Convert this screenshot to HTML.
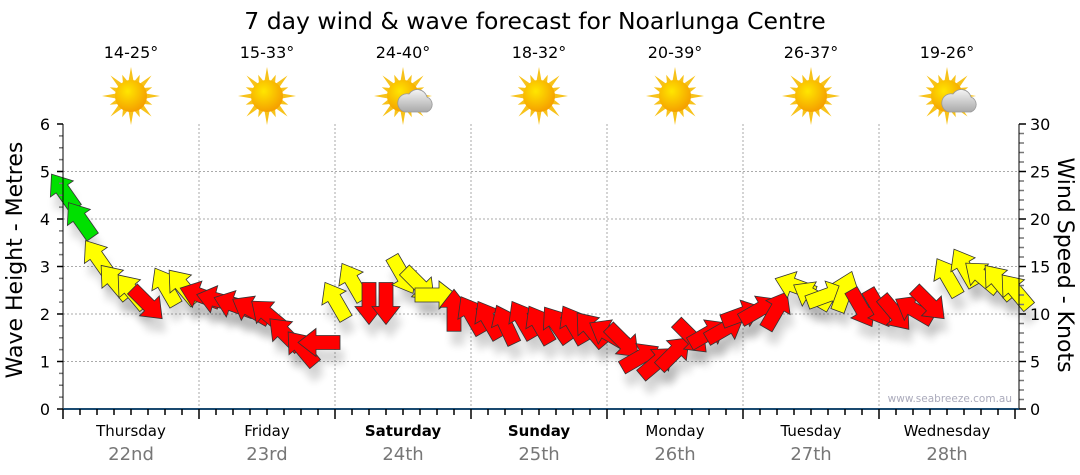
<!DOCTYPE html>
<html><head><meta charset="utf-8"><style>
body{margin:0;background:#fff;}
svg{display:block;font-family:"DejaVu Sans","Liberation Sans",sans-serif;}
</style></head><body>
<svg id="chart" width="1080" height="475" viewBox="0 0 1080 475">
<defs>
<filter id="sh" x="-50%" y="-50%" width="200%" height="200%"><feGaussianBlur stdDeviation="4"/></filter>
<radialGradient id="sunG" cx="40%" cy="35%" r="65%"><stop offset="0" stop-color="#ffe600"/><stop offset="1" stop-color="#f5a000"/></radialGradient>
<linearGradient id="cloudG" x1="0" y1="0" x2="0" y2="1"><stop offset="0" stop-color="#f4f4f4"/><stop offset="1" stop-color="#a9a9a9"/></linearGradient>
</defs>
<text x="535" y="29" text-anchor="middle" font-size="23.5" fill="#000">7 day wind &amp; wave forecast for Noarlunga Centre</text>
<g id="grid"></g>
<g id="shadows"></g>
<g id="marks"></g>
<g id="axes"></g>
<g id="topRow"></g>
<text x="1012" y="402" text-anchor="end" font-size="10.5" fill="#aab">www.seabreeze.com.au</text>
<text transform="translate(22,260) rotate(-90)" text-anchor="middle" font-size="22">Wave Height - Metres</text>
<text transform="translate(1058,265) rotate(90)" text-anchor="middle" font-size="22">Wind Speed - Knots</text>
</svg>
<script>
const days = ["Thursday","Friday","Saturday","Sunday","Monday","Tuesday","Wednesday"];
const dates = ["22nd","23rd","24th","25th","26th","27th","28th"];
const boldDays = [false,false,true,true,false,false,false];
const temps = ["14-25°","15-33°","24-40°","18-32°","20-39°","26-37°","19-26°"];
const cloudy = [false,false,true,false,false,false,true];
const leftTicks = [0,1,2,3,4,5,6];
const rightTicks = [0,5,10,15,20,25,30];
// wind every 3 hours (knots)
const windSpeed = [23,20,16,13.5,12.5,11,13,13,
 12,11.5,11,10.5,10,8,6.5,7,
 11.5,13.5,11,11,14,13,12,10.5,
 10,9.5,9,9.5,9,9,9,8.5,
 8,7,5.5,5,6,7.5,8,8.5,
 10,10.5,10.5,13,12,12,12.5,10.5,
 10.5,10,10.5,11,14,15,14,13.5,12.5];
const windDir = [-125,-125,-125,-130,-130,45,-120,-130,
 -160,-165,-160,-150,-140,-135,-130,180,
 -120,-120,90,90,60,45,0,-90,
 -120,-120,-115,-120,-120,-125,-120,-130,
 -150,45,-30,-40,-45,45,-30,-30,
 -20,-30,-60,-160,-150,-20,-70,60,
 60,50,-150,45,-120,-120,-140,-130,-130];
const windCat = ["g","g","y","y","y","r","y","y",
 "r","r","r","r","r","r","r","r",
 "y","y","r","r","y","y","y","r",
 "r","r","r","r","r","r","r","r",
 "r","r","r","r","r","r","r","r",
 "r","r","r","y","y","y","y","r",
 "r","r","r","r","y","y","y","y","y"];
const catColor = {g:"#00e000",y:"#ffff00",r:"#ff0000"};

const NS="http://www.w3.org/2000/svg";
const X0=63,X1=1019,Y0=409,Y6=124,DAYW=136;
const yM=v=>Y0-(Y0-Y6)*v/6;
const yK=v=>Y0-(Y0-Y6)*v/30;
const xT=i=>X0+i*DAYW/8;
function mk(tag,attrs,parent){const e=document.createElementNS(NS,tag);for(const k in attrs)e.setAttribute(k,attrs[k]);parent.appendChild(e);return e;}
const gridG=document.getElementById('grid'),axesG=document.getElementById('axes'),marksG=document.getElementById('marks'),shadowsG=document.getElementById('shadows'),topG=document.getElementById('topRow');

leftTicks.forEach(v=>{
 if(v>0&&v<6){const l=mk('line',{x1:X0,x2:X1,y1:yM(v),y2:yM(v),stroke:'#aaa','stroke-dasharray':'2,2'},gridG);
 
 }
 const t=mk('text',{x:50,y:yM(v)+6,'text-anchor':'end','font-size':16},axesG);t.textContent=v;
 
 
});
for(let v=0;v<=6.001;v+=0.25){const maj=Math.abs(v-Math.round(v))<0.01;mk('line',{x1:X0-(maj?6:4),x2:X0,y1:yM(v),y2:yM(v),stroke:maj?'#000':'#777','stroke-width':1.5},axesG);}
rightTicks.forEach(v=>{
 const t=mk('text',{x:1030,y:yK(v)+6,'font-size':16},axesG);t.textContent=v;
 
 
});
for(let v=0;v<=30;v+=1){const maj=v%5==0;mk('line',{x1:X1,x2:X1+(maj?7:5),y1:yK(v),y2:yK(v),stroke:maj?'#000':'#777','stroke-width':1.5},axesG);}
mk('line',{x1:X0,x2:X0,y1:Y6,y2:Y0,stroke:'#000'},axesG);
mk('line',{x1:X1,x2:X1,y1:Y6,y2:Y0,stroke:'#000'},axesG);
mk('line',{x1:X0,x2:X1,y1:Y0,y2:Y0,stroke:'#1a4a70','stroke-width':2},axesG);
for(let i=0;i<=56;i++){const d=i%8==0;mk('line',{x1:xT(i),x2:xT(i),y1:Y0,y2:Y0+(d?10:6),stroke:'#000','stroke-width':1.5},axesG);}
days.forEach((d,i)=>{
 const cx=X0+DAYW*(i+0.5);
 if(i>0){const l=mk('line',{x1:X0+DAYW*i,x2:X0+DAYW*i,y1:Y6,y2:Y0,stroke:'#aaa','stroke-dasharray':'2,2'},gridG);
 
 }
 const t=mk('text',{x:cx,y:436,'text-anchor':'middle','font-size':15,'font-weight':boldDays[i]?'bold':'normal'},axesG);t.textContent=d;
 
 
 const t2=mk('text',{x:cx,y:460,'text-anchor':'middle','font-size':18,fill:'#777'},axesG);t2.textContent=dates[i];
 
 
 const t3=mk('text',{x:cx,y:58,'text-anchor':'middle','font-size':16},topG);t3.textContent=temps[i];
 
 
 const g=mk('g',{transform:`translate(${cx},96)`},topG);
 
 
 for(let k=0;k<16;k++){const a=k*Math.PI/8,L=k%2?23:29;
  mk('polygon',{points:`${Math.cos(a)*L},${Math.sin(a)*L} ${Math.cos(a+0.17)*15},${Math.sin(a+0.17)*15} ${Math.cos(a-0.17)*15},${Math.sin(a-0.17)*15}`,fill:'#f7c21a'},g);}
 mk('circle',{r:16,fill:'url(#sunG)'},g);
 if(cloudy[i]){mk('path',{d:'M2,16 h22 a8,8 0 0 0 0,-15 a10,10 0 0 0 -18,-3 a8,8 0 0 0 -4,18 z',fill:'url(#cloudG)',stroke:'#999','stroke-width':0.8},g);}
});
const arrowPts="-22,-7 2,-7 2,-14 20,0 2,14 2,7 -22,7";
windSpeed.forEach((v,i)=>{
 const x=xT(i),y=yK(v);
 mk('polygon',{points:arrowPts,transform:`translate(${x+4},${y+14}) rotate(${windDir[i]})`,fill:'#000',opacity:0.15,filter:'url(#sh)'},shadowsG);
 const p=mk('polygon',{points:arrowPts,transform:`translate(${x},${y}) rotate(${windDir[i]})`,fill:catColor[windCat[i]],stroke:'#333','stroke-width':0.8},marksG);
 
 
});
</script>
</body></html>
